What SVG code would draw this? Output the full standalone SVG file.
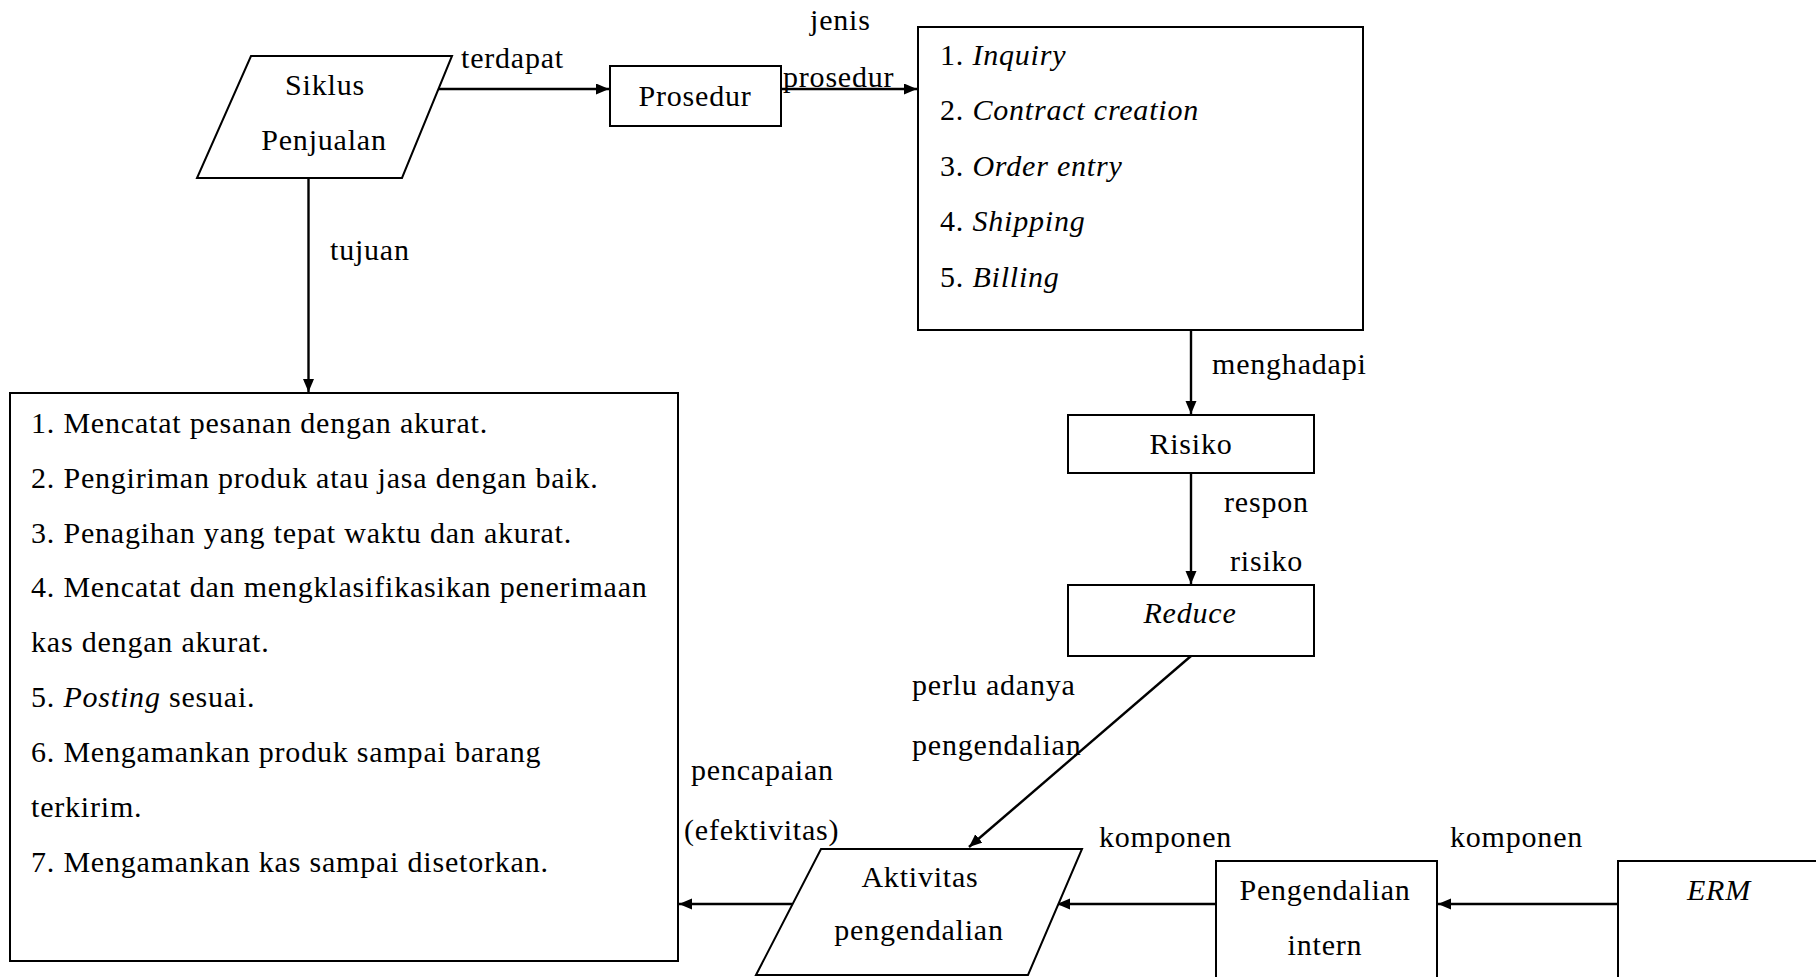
<svg xmlns="http://www.w3.org/2000/svg" width="1816" height="977" viewBox="0 0 1816 977">
<style>
text{font-family:"Liberation Serif","Times New Roman",serif;font-size:30px;letter-spacing:0.8px;fill:#000}
.c{text-anchor:middle}
.i{font-style:italic}
.s{fill:#fff;stroke:#000;stroke-width:2}
.l{stroke:#000;stroke-width:2.4;fill:none}
</style>
<defs>
<marker id="ah" markerUnits="userSpaceOnUse" markerWidth="16" markerHeight="14" refX="13" refY="5.5" orient="auto">
<path d="M0,0 L13,5.5 L0,11 Z" fill="#000"/>
</marker>
</defs>
<rect width="1816" height="977" fill="#fff"/>

<g id="connectors">
<line class="l" x1="438" y1="89" x2="609" y2="89" marker-end="url(#ah)"/>
<line class="l" x1="781" y1="89" x2="917" y2="89" marker-end="url(#ah)"/>
<line class="l" x1="308.5" y1="178" x2="308.5" y2="392" marker-end="url(#ah)"/>
<line class="l" x1="1191" y1="330" x2="1191" y2="414" marker-end="url(#ah)"/>
<line class="l" x1="1191" y1="473" x2="1191" y2="584" marker-end="url(#ah)"/>
<line class="l" x1="1191" y1="656" x2="969" y2="847" marker-end="url(#ah)"/>
<line class="l" x1="792" y1="904" x2="679" y2="904" marker-end="url(#ah)"/>
<line class="l" x1="1216" y1="904" x2="1057" y2="904" marker-end="url(#ah)"/>
<line class="l" x1="1618" y1="904" x2="1438" y2="904" marker-end="url(#ah)"/>
<text x="461" y="68">terdapat</text>
<text x="810" y="30">jenis</text>
<text x="783" y="87">prosedur</text>
<text x="330" y="260">tujuan</text>
<text x="1212" y="374">menghadapi</text>
<text x="1224" y="512">respon</text>
<text x="1230" y="571">risiko</text>
<text x="912" y="695">perlu adanya</text>
<text x="912" y="755">pengendalian</text>
<text x="691" y="780">pencapaian</text>
<text x="684" y="840">(efektivitas)</text>
<text x="1099" y="847">komponen</text>
<text x="1450" y="847">komponen</text>
</g>

<g id="siklus">
<polygon class="s" points="251,56 452,56 402,178 197,178"/>
<text class="c" x="325" y="95">Siklus</text>
<text class="c" x="324" y="150">Penjualan</text>
</g>

<g id="prosedur">
<rect class="s" x="610" y="66" width="171" height="60"/>
<text class="c" x="695" y="106">Prosedur</text>
</g>

<g id="jenis-prosedur">
<rect class="s" x="918" y="27" width="445" height="303"/>
<text x="940" y="65">1. <tspan class="i">Inquiry</tspan></text>
<text x="940" y="120">2. <tspan class="i">Contract creation</tspan></text>
<text x="940" y="176">3. <tspan class="i">Order entry</tspan></text>
<text x="940" y="231">4. <tspan class="i">Shipping</tspan></text>
<text x="940" y="287">5. <tspan class="i">Billing</tspan></text>
</g>

<g id="tujuan-list">
<rect class="s" x="10" y="393" width="668" height="568"/>
<text x="31" y="433">1. Mencatat pesanan dengan akurat.</text>
<text x="31" y="488">2. Pengiriman produk atau jasa dengan baik.</text>
<text x="31" y="543">3. Penagihan yang tepat waktu dan akurat.</text>
<text x="31" y="597">4. Mencatat dan mengklasifikasikan penerimaan</text>
<text x="31" y="652">kas dengan akurat.</text>
<text x="31" y="707">5. <tspan class="i">Posting</tspan> sesuai.</text>
<text x="31" y="762">6. Mengamankan produk sampai barang</text>
<text x="31" y="817">terkirim.</text>
<text x="31" y="872">7. Mengamankan kas sampai disetorkan.</text>
</g>

<g id="risiko">
<rect class="s" x="1068" y="415" width="246" height="58"/>
<text class="c" x="1191" y="454">Risiko</text>
</g>

<g id="reduce">
<rect class="s" x="1068" y="585" width="246" height="71"/>
<text class="c i" x="1190" y="623">Reduce</text>
</g>

<g id="aktivitas">
<polygon class="s" points="821,849 1082,849 1028,975 756,975"/>
<text class="c" x="920" y="887">Aktivitas</text>
<text class="c" x="919" y="940">pengendalian</text>
</g>

<g id="pengendalian-intern">
<rect class="s" x="1216" y="861" width="221" height="130"/>
<text class="c" x="1325" y="900">Pengendalian</text>
<text class="c" x="1325" y="955">intern</text>
</g>

<g id="erm">
<rect class="s" x="1618" y="861" width="220" height="130"/>
<text class="c i" x="1719" y="900">ERM</text>
</g>
</svg>
